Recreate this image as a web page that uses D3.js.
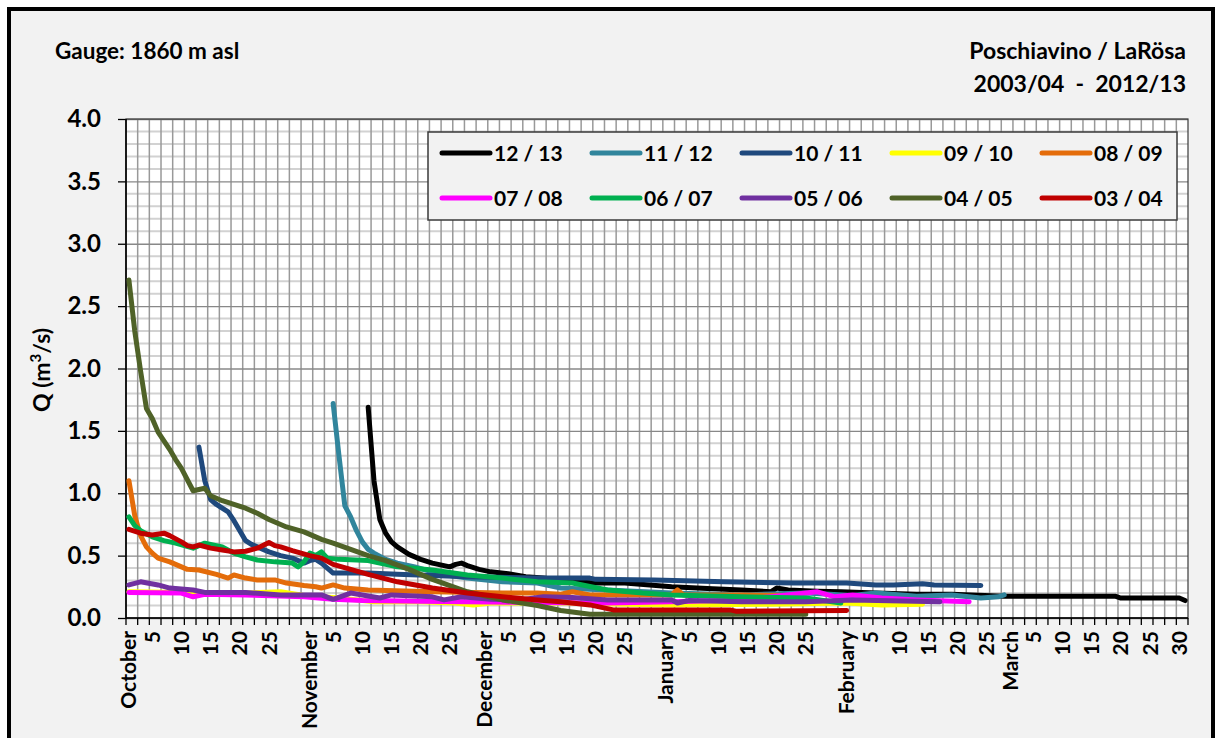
<!DOCTYPE html>
<html>
<head>
<meta charset="utf-8">
<script src="https://cdn.jsdelivr.net/npm/d3@7"></script>
<style>
  body { margin: 0; background: #fff; }
  svg { display: block; font-family: Lato, "Open Sans", sans-serif; font-weight: bold; }
</style>
</head>
<body>
<svg id="chart" width="1220" height="738"></svg>
<script>
// days are counted from 1 October (index 0) to 31 March (index 181)
const months = ["October", "November", "December", "January", "February", "March"];
const monthDays = [31, 30, 31, 31, 28, 31];
const labelDays = [
  [5, 10, 15, 20, 25], [5, 10, 15, 20, 25], [5, 10, 15, 20, 25],
  [5, 10, 15, 20, 25], [5, 10, 15, 20, 25], [5, 10, 15, 20, 25, 30]
];
const yTicks = [0, 0.5, 1, 1.5, 2, 2.5, 3, 3.5, 4];

const seasons = ["12 / 13", "11 / 12", "10 / 11", "09 / 10", "08 / 09",
                 "07 / 08", "06 / 07", "05 / 06", "04 / 05", "03 / 04"];
const colors = ["#000000", "#31859c", "#1f497d", "#ffff00", "#e46c0a",
                "#ff00ff", "#00b050", "#7030a0", "#4f6228", "#c00000"];

// [day, Q m3/s]
const s1213 = [[41,1.69],[42,1.10],[43,0.79],[44,0.68],[45,0.61],[46,0.57],[47,0.54],[48,0.51],[50,0.47],[52,0.44],[54,0.42],[55,0.41],[56,0.43],[57,0.44],[58,0.42],[60,0.39],[62,0.37],[65,0.355],[68,0.33],[71,0.32],[76,0.29],[80,0.28],[85,0.28],[93,0.25],[100,0.235],[105,0.225],[110,0.21],[111,0.24],[113,0.225],[118,0.215],[122,0.21],[128,0.20],[135,0.19],[141,0.19],[150,0.175],[160,0.175],[169,0.175],[170,0.16],[180,0.16],[181,0.14]];
const s1112 = [[35,1.72],[36,1.30],[37,0.90],[38,0.81],[39,0.70],[40,0.61],[41,0.55],[42,0.52],[44,0.47],[46,0.44],[49,0.41],[52,0.37],[55,0.34],[58,0.32],[64,0.29],[70,0.28],[74,0.24],[82,0.225],[93,0.20],[105,0.185],[116,0.20],[124,0.18],[128,0.20],[135,0.175],[141,0.185],[146,0.16],[149,0.17],[150,0.185]];
const s1011 = [[12,1.37],[13,1.10],[14,0.95],[15,0.91],[17,0.85],[18,0.78],[20,0.62],[21,0.59],[22,0.57],[24,0.53],[26,0.50],[28,0.48],[30,0.44],[31,0.46],[32,0.47],[33,0.44],[34,0.40],[35,0.36],[41,0.36],[46,0.35],[58,0.33],[70,0.32],[79,0.32],[80,0.31],[90,0.305],[102,0.29],[114,0.28],[123,0.28],[128,0.265],[131,0.265],[136,0.275],[138,0.265],[146,0.26]];
const s0910 = [[0,0.21],[10,0.205],[20,0.20],[26,0.21],[30,0.18],[36,0.16],[42,0.13],[50,0.13],[56,0.12],[59,0.105],[62,0.12],[75,0.12],[85,0.11],[93,0.105],[110,0.11],[123,0.12],[129,0.105],[136,0.11]];
const s0809 = [[0,1.10],[1,0.82],[2,0.66],[3,0.57],[4,0.52],[5,0.48],[7,0.45],[9,0.41],[10,0.39],[12,0.385],[15,0.35],[17,0.32],[18,0.345],[20,0.32],[22,0.305],[25,0.305],[27,0.28],[30,0.26],[32,0.25],[33,0.24],[35,0.265],[37,0.24],[41,0.225],[52,0.21],[64,0.20],[70,0.20],[74,0.19],[76,0.21],[79,0.185],[85,0.185],[93,0.185],[94,0.225],[95,0.185],[105,0.185],[115,0.18]];
const s0708 = [[0,0.205],[9,0.20],[11,0.17],[13,0.19],[20,0.185],[30,0.17],[35,0.15],[40,0.14],[50,0.135],[58,0.13],[70,0.125],[82,0.12],[93,0.13],[104,0.145],[110,0.17],[116,0.20],[118,0.21],[121,0.17],[124,0.185],[129,0.16],[135,0.145],[144,0.13]];
const s0607 = [[0,0.81],[1,0.74],[2,0.70],[4,0.65],[6,0.62],[8,0.60],[11,0.56],[13,0.60],[16,0.57],[18,0.52],[20,0.49],[22,0.465],[25,0.45],[28,0.44],[29,0.41],[30,0.45],[31,0.52],[32,0.50],[33,0.53],[34,0.48],[36,0.47],[41,0.46],[46,0.41],[52,0.385],[58,0.345],[64,0.32],[70,0.29],[76,0.28],[82,0.225],[88,0.20],[93,0.185],[105,0.17],[116,0.16],[122,0.12]];
const s0506 = [[0,0.265],[2,0.29],[5,0.265],[7,0.24],[11,0.225],[13,0.205],[20,0.205],[26,0.185],[33,0.185],[35,0.15],[38,0.20],[43,0.16],[45,0.185],[52,0.17],[54,0.145],[57,0.17],[62,0.15],[67,0.145],[71,0.17],[76,0.165],[82,0.145],[93,0.145],[94,0.12],[96,0.14],[105,0.13],[116,0.13],[124,0.145],[139,0.13]];
const s0405 = [[0,2.71],[1,2.30],[2,1.98],[3,1.68],[4,1.60],[5,1.49],[7,1.35],[8,1.27],[9,1.20],[11,1.02],[13,1.04],[14,0.98],[16,0.94],[18,0.91],[20,0.88],[22,0.84],[24,0.79],[27,0.73],[30,0.69],[33,0.63],[35,0.60],[38,0.55],[41,0.50],[44,0.46],[48,0.39],[52,0.31],[58,0.21],[64,0.145],[70,0.10],[74,0.06],[79,0.03],[116,0.03]];
const s0304 = [[0,0.71],[2,0.68],[4,0.665],[6,0.68],[7,0.66],[9,0.61],[10,0.58],[11,0.57],[12,0.585],[14,0.56],[16,0.545],[18,0.53],[20,0.535],[22,0.56],[24,0.605],[25,0.58],[26,0.57],[28,0.54],[31,0.50],[33,0.48],[35,0.43],[38,0.39],[41,0.35],[46,0.29],[52,0.24],[58,0.20],[64,0.17],[70,0.145],[74,0.13],[79,0.105],[83,0.065],[103,0.065],[104,0.055],[123,0.06]];
const series = [s1213, s1112, s1011, s0910, s0809, s0708, s0607, s0506, s0405, s0304];

const margin = { top: 119, right: 32, bottom: 120, left: 126 };
const W = 1220, H = 738;
const nDays = d3.sum(monthDays);

const svg = d3.select("#chart");

// outer frame
svg.append("rect")
  .attr("x", 9).attr("y", 9)
  .attr("width", 1204).attr("height", 760)
  .attr("fill", "#f2f2f2")
  .attr("stroke", "#000").attr("stroke-width", 4);

const x = d3.scaleBand()
  .domain(d3.range(nDays))
  .range([margin.left, W - margin.right]);
const y = d3.scaleLinear()
  .domain([0, 4])
  .range([H - margin.bottom, margin.top]);
const xc = d => x(d) + x.bandwidth() / 2;

// plot area
svg.append("rect")
  .attr("x", margin.left).attr("y", margin.top)
  .attr("width", W - margin.right - margin.left)
  .attr("height", y(0) - y(4))
  .attr("fill", "#fff");

// minor horizontal grid every 0.1
svg.append("g").selectAll("line")
  .data(d3.range(1, 40).filter(i => i % 5 !== 0).map(i => i / 10))
  .join("line")
  .attr("x1", margin.left).attr("x2", W - margin.right)
  .attr("y1", d => y(d)).attr("y2", d => y(d))
  .attr("stroke", "#d2d2d2").attr("stroke-width", 2);

// vertical grid every 2 days
const gridDays = d3.range(2, nDays, 2);
svg.append("g").selectAll("line")
  .data(gridDays)
  .join("line")
  .attr("x1", d => x(d)).attr("x2", d => x(d))
  .attr("y1", y(4)).attr("y2", y(0))
  .attr("stroke", "#999").attr("stroke-width", 1.5);

// major horizontal grid with y axis
const yAxis = d3.axisLeft(y)
  .tickValues(yTicks)
  .tickSize(8)
  .tickFormat(d3.format(".1f"));
const yAxisGroup = svg.append("g")
  .attr("transform", `translate(${margin.left},0)`)
  .call(yAxis);
yAxisGroup.select(".domain").remove();
yAxisGroup.selectAll(".tick line").clone()
  .attr("x2", W - margin.right - margin.left)
  .attr("stroke", "#888").attr("stroke-width", 1.6);
yAxisGroup.selectAll(".tick line").attr("stroke-width", 1.3);
yAxisGroup.selectAll("text")
  .attr("x", -25)
  .attr("fill", "#000")
  .attr("font-size", 24)
  .attr("font-family", "Lato, sans-serif")
  .attr("font-weight", "bold");

// plot border
svg.append("rect")
  .attr("x", margin.left).attr("y", margin.top)
  .attr("width", W - margin.right - margin.left)
  .attr("height", y(0) - y(4))
  .attr("fill", "none")
  .attr("stroke", "#3a3a3a").attr("stroke-width", 1.2);
svg.append("line")
  .attr("x1", margin.left).attr("x2", margin.left)
  .attr("y1", y(4)).attr("y2", y(0))
  .attr("stroke", "#000").attr("stroke-width", 1.6);
svg.append("line")
  .attr("x1", margin.left).attr("x2", W - margin.right)
  .attr("y1", y(0)).attr("y2", y(0))
  .attr("stroke", "#000").attr("stroke-width", 1.6);

// x tick marks every 2 days
svg.append("g").selectAll("line")
  .data(d3.range(0, nDays + 1, 2))
  .join("line")
  .attr("x1", d => margin.left + d * x.step()).attr("x2", d => margin.left + d * x.step())
  .attr("y1", y(0)).attr("y2", y(0) + 7)
  .attr("stroke", "#000").attr("stroke-width", 1.3);

// x labels: month name on day 1, then day numbers
const monthStart = d3.cumsum([0, ...monthDays]);
const xLabels = [];
months.forEach((m, i) => {
  xLabels.push({ day: monthStart[i], text: m });
  labelDays[i].forEach(dd => xLabels.push({ day: monthStart[i] + dd - 1, text: String(dd) }));
});
const labelTop = y(0) + 13;
svg.append("g").selectAll("text")
  .data(xLabels)
  .join("text")
  .attr("transform", d => `translate(${xc(d.day)},${labelTop}) rotate(-90)`)
  .attr("text-anchor", "end")
  .attr("dy", "0.36em")
  .attr("font-size", 21)
  .text(d => d.text);

// lines, drawn in legend order
const line = d3.line()
  .x(d => xc(d[0]))
  .y(d => y(d[1]));
svg.append("g").selectAll("path")
  .data(series)
  .join("path")
  .attr("fill", "none")
  .attr("stroke", (d, i) => colors[i])
  .attr("stroke-width", 5)
  .attr("stroke-linejoin", "round")
  .attr("stroke-linecap", "round")
  .attr("d", line);

// legend
const legend = svg.append("g");
legend.append("rect")
  .attr("x", 428).attr("y", 132)
  .attr("width", 749).attr("height", 88)
  .attr("fill", "#f2f2f2")
  .attr("stroke", "#3a3a3a").attr("stroke-width", 1.5);
const items = legend.selectAll("g.item")
  .data(seasons)
  .join("g")
  .attr("class", "item")
  .attr("transform", (d, i) => `translate(${442 + (i % 5) * 150},${i < 5 ? 153 : 198})`);
items.append("line")
  .attr("x1", 0).attr("x2", 48)
  .attr("stroke", (d, i) => colors[i])
  .attr("stroke-width", 5)
  .attr("stroke-linecap", "round");
items.append("text")
  .attr("x", 52)
  .attr("dy", "0.36em")
  .attr("font-size", 21)
  .text(d => d);

// titles
svg.append("text")
  .attr("x", 55).attr("y", 59)
  .attr("font-size", 22.5)
  .text("Gauge: 1860 m asl");
svg.append("text")
  .attr("x", 1186).attr("y", 59)
  .attr("text-anchor", "end")
  .attr("font-size", 23)
  .text("Poschiavino / LaRösa");
svg.append("text")
  .attr("x", 1186).attr("y", 92)
  .attr("text-anchor", "end")
  .attr("font-size", 23)
  .attr("xml:space", "preserve")
  .style("white-space", "pre")
  .text("2003/04  -  2012/13");

// y axis title
const yTitle = svg.append("text")
  .attr("transform", `translate(50,370) rotate(-90)`)
  .attr("text-anchor", "middle")
  .attr("font-size", 23);
yTitle.append("tspan").text("Q (m");
yTitle.append("tspan").attr("dy", -9).attr("font-size", 15).text("3");
yTitle.append("tspan").attr("dy", 9).text("/s)");
</script>
</body>
</html>
